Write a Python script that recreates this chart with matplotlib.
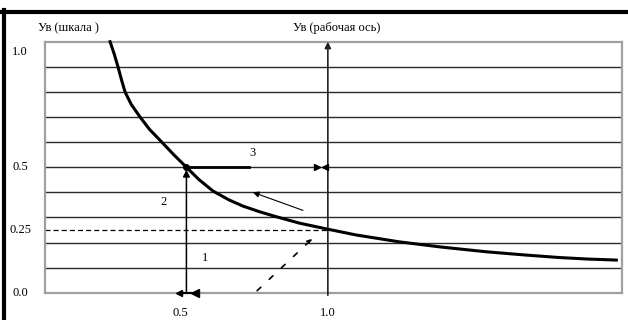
import matplotlib
matplotlib.use("Agg")
import matplotlib.pyplot as plt
from matplotlib.lines import Line2D

plt.rcParams['font.family'] = ['Liberation Serif', 'DejaVu Serif']

# curve
curve_x = [0.23, 0.245, 0.258, 0.27, 0.283, 0.305, 0.336, 0.37, 0.413, 0.455, 0.5,
           0.545, 0.594, 0.65, 0.7, 0.76, 0.82, 0.9, 1.0, 1.1, 1.25, 1.4, 1.56,
           1.7, 1.82, 1.92, 2.02]
curve_y = [1.0, 0.95, 0.9, 0.85, 0.8, 0.75, 0.7, 0.65, 0.6, 0.55, 0.5,
           0.45, 0.405, 0.37, 0.345, 0.322, 0.302, 0.277, 0.253, 0.23, 0.203, 0.182, 0.163,
           0.15, 0.14, 0.134, 0.13]

grid_y = [0.1, 0.2, 0.3, 0.4, 0.5, 0.6, 0.7, 0.8, 0.9]
ytick_vals = [0.0, 0.25, 0.5, 1.0]
ytick_labels = ["0.0", "0.25", "0.5", "1.0"]
xtick_vals = [0.5, 1.0]
xtick_labels = ["0.5", "1.0"]

work_x = 1.0       # рабочая ось
point_x = 0.5      # заданная точка
point_y = 0.5
level_y = 0.25     # пунктир
seg3_end = 0.72    # толстый отрезок 3

thin_arrow = [(0.912, 0.328), (0.735, 0.40)]
dash_arrow = [(0.75, 0.008), (0.945, 0.215)]

labels = [("1", 0.565, 0.14), ("2", 0.42, 0.36), ("3", 0.735, 0.555)]

fig = plt.figure(figsize=(6.28, 3.2), dpi=100)
ax = fig.add_axes([45 / 628, 1 - 292.7 / 320, 577 / 628, 251 / 320])
ax.set_xlim(0, 2.04)
ax.set_ylim(0, 1.0)

for s in ax.spines.values():
    s.set_color('#a0a0a0')
    s.set_linewidth(1.6)

# horizontal grid
for g in grid_y:
    ax.axhline(g, color='#2a2a2a', lw=1.0, zorder=1)

# dashed level 0.25
ax.plot([0, work_x], [level_y, level_y], color='black', lw=0.9,
        dashes=(4, 2.5), zorder=2)

# curve
ax.plot(curve_x, curve_y, color='black', lw=2.2, zorder=4, clip_on=False,
        solid_joinstyle='round')

# working axis with arrow
ax.annotate('', xy=(work_x, 1.0), xytext=(work_x, -0.01),
            arrowprops=dict(arrowstyle='-|>', color='#222222', lw=1.2,
                            mutation_scale=9, shrinkA=0, shrinkB=0),
            annotation_clip=False, zorder=3)

# vertical line 1 at x = 0.5
ax.annotate('', xy=(point_x, point_y - 0.01), xytext=(point_x, 0),
            arrowprops=dict(arrowstyle='-|>', color='black', lw=1.1,
                            mutation_scale=10, shrinkA=0, shrinkB=0),
            zorder=5)
ax.plot([point_x], [point_y], marker='o', ms=4, color='black', zorder=6)

# bowtie at the bottom
ax.plot([point_x - 0.025], [0.0], marker='<', ms=4.5, color='black', zorder=6, clip_on=False)
ax.plot([point_x + 0.03], [0.0], marker='<', ms=5.5, color='black', zorder=6, clip_on=False)
ax.plot([point_x - 0.02, point_x + 0.03], [0.0, 0.0], color='black', lw=1.5, zorder=6, clip_on=False)

# segment 3
ax.plot([point_x, seg3_end], [point_y, point_y], color='black', lw=2.0, zorder=5)
ax.plot([work_x - 0.04], [point_y], marker='>', ms=5, color='black', zorder=6)
ax.plot([work_x - 0.01], [point_y], marker='<', ms=5, color='black', zorder=6)

# thin arrow
ax.annotate('', xy=thin_arrow[1], xytext=thin_arrow[0],
            arrowprops=dict(arrowstyle='-|>', color='black', lw=0.8,
                            mutation_scale=9, shrinkA=0, shrinkB=0),
            zorder=5)

# dashed arrow
ax.annotate('', xy=dash_arrow[1], xytext=dash_arrow[0],
            arrowprops=dict(arrowstyle='-|>', color='black', lw=1.2,
                            linestyle=(0, (3, 7)),
                            mutation_scale=7, shrinkA=0, shrinkB=0),
            zorder=5)

for txt, lx, ly in labels:
    ax.text(lx, ly, txt, fontsize=9, ha='center', va='center')

# ticks
ax.set_xticks([])
ax.set_yticks([])
ytr = ax.get_yaxis_transform()
for v, lab in zip(ytick_vals, ytick_labels):
    off = -0.04 if v == 1.0 else 0.0
    ax.text(-0.043, v + off, lab, transform=ytr, fontsize=9,
            ha='center', va='center', clip_on=False)
xtr = ax.get_xaxis_transform()
for v, lab in zip(xtick_vals, xtick_labels):
    ax.text(v - 0.02 if v == 0.5 else v, -0.08, lab, transform=xtr,
            fontsize=9, ha='center', va='center', clip_on=False)

fig.text(68 / 628, 1 - 28 / 320, "Ув (шкала )", fontsize=9, ha='center', va='center')
fig.text(337 / 628, 1 - 28 / 320, "Ув (рабочая ось)", fontsize=9, ha='center', va='center')

# outer black border (left and top)
fig.add_artist(Line2D([4 / 628, 4 / 628], [0, 1 - 10 / 320], color='black',
                      lw=3, transform=fig.transFigure))
fig.add_artist(Line2D([0, 1], [1 - 11.5 / 320, 1 - 11.5 / 320], color='black',
                      lw=3, transform=fig.transFigure))

fig.savefig("out.png", dpi=100)
